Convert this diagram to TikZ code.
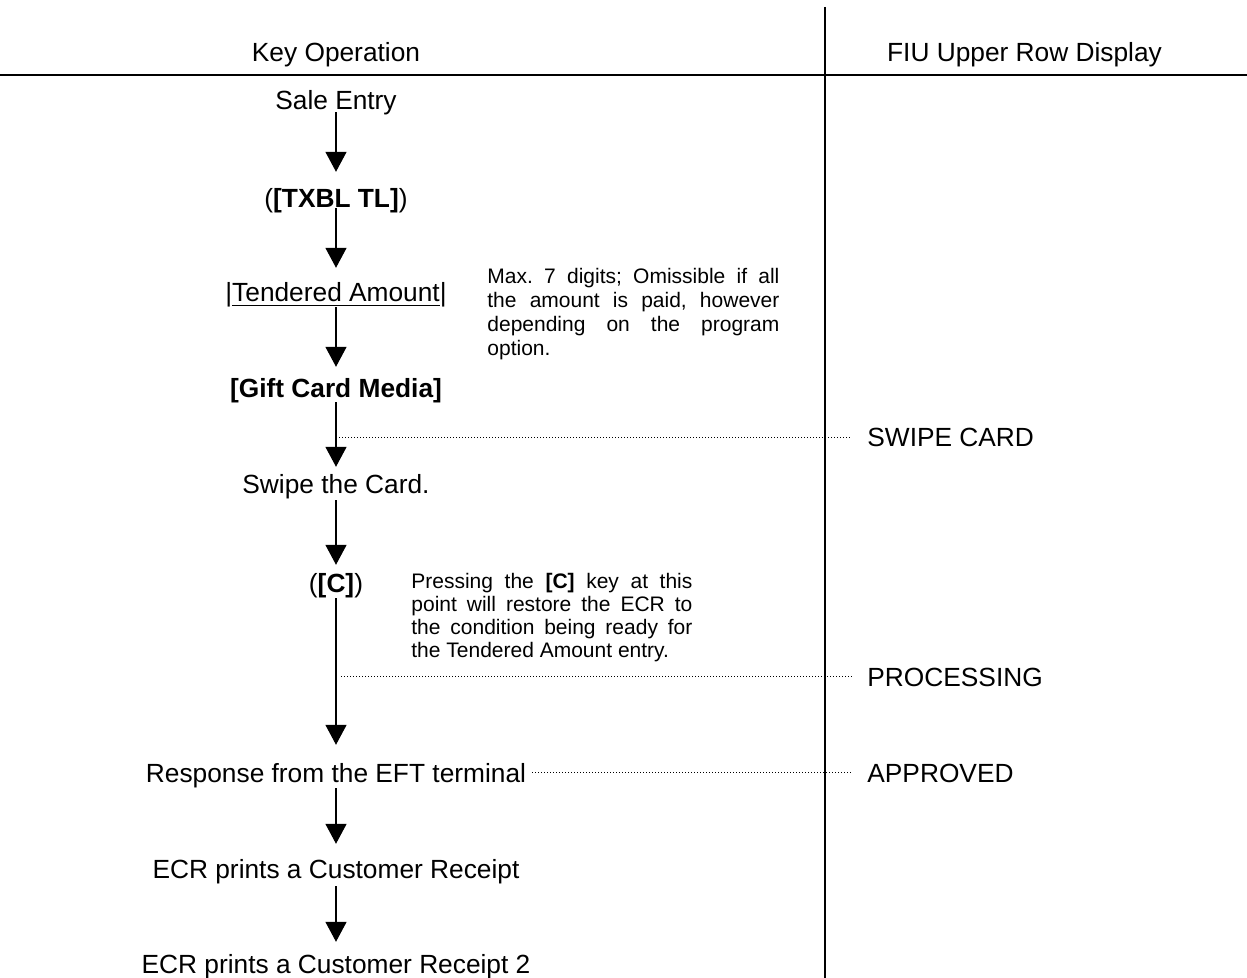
\documentclass[tikz,border=0pt]{standalone}
\usepackage{fontspec}
\setmainfont{Liberation Sans}
\usetikzlibrary{arrows.meta}
\frenchspacing
\begin{document}
\begin{tikzpicture}[x=0.5pt,y=-0.5pt,
  keyop/.style={font=\fontsize{13.15}{15.8}\selectfont, inner sep=0pt, text height=9.4pt, text depth=0pt, anchor=base},
  disp/.style={font=\fontsize{13.15}{15.8}\selectfont, inner xsep=7.5pt, inner ysep=0pt, text height=9.4pt, text depth=0pt, anchor=west},
  flow/.style={line width=0.75pt, -{Triangle[width=10.5pt,length=10pt]}},
  guide/.style={line width=0.5pt, dash pattern=on 0.5pt off 1pt},
  rulel/.style={line width=1pt},
  notetext/.style={font=\fontsize{10.5}{11.8}\selectfont, inner sep=0pt, anchor=base west}
]
\useasboundingbox (0,0) rectangle (1247,978);

% frame lines
\coordinate (vtop) at (825,7);
\coordinate (vbot) at (825,978);
\coordinate (hl) at (0,75);
\coordinate (hr) at (1247,75);
\draw[rulel] (vtop) -- (vbot);
\draw[rulel] (hl) -- (hr);

% headers
\node[keyop] (hdrL) at (336,62) {Key Operation};
\node[keyop] (hdrR) at (1024.5,62) {FIU Upper Row Display};

% flow nodes
\node[keyop] (sale)  at (336,110) {Sale Entry};
\node[keyop] (txbl)  at (336,208) {(\textbf{[TXBL TL]})};
\node[keyop] (tend)  at (336,302) {|\underline{Tendered Amount}|};
\node[keyop] (gift)  at (336,398) {\textbf{[Gift Card Media]}};
\node[keyop] (swipe) at (336,493) {Swipe the Card.};
\node[keyop] (ckey)  at (336,592) {(\textbf{[C]})};
\node[keyop] (resp)  at (336,782) {Response from the EFT terminal};
\node[keyop] (ecra)  at (336,878) {ECR prints a Customer Receipt};
\node[keyop] (ecrb)  at (336,973) {ECR prints a Customer Receipt 2};

% notes
\node[notetext] (note1) at (487,284) {\parbox[t]{146pt}{\fontsize{10.5}{11.9}\selectfont\frenchspacing
\makebox[\linewidth][s]{Max. 7 digits; Omissible if all}\\
\makebox[\linewidth][s]{the amount is paid, however}\\
\makebox[\linewidth][s]{depending on the program}\\
option.}};
\node[notetext] (note2) at (411,588) {\parbox[t]{140.5pt}{\fontsize{10.5}{11.65}\selectfont\frenchspacing
\makebox[\linewidth][s]{Pressing the \textbf{[C]} key at this}\\
\makebox[\linewidth][s]{point will restore the ECR to}\\
\makebox[\linewidth][s]{the condition being ready for}\\
the Tendered Amount entry.}};

% arrows
\draw[flow, shorten <=1pt, shorten >=8.5pt] (sale.south) -- (txbl.north);
\draw[flow, shorten <=0pt, shorten >=7.5pt] (txbl.south) -- (tend.north);
\draw[flow, shorten <=2.5pt, shorten >=6pt] (tend.south) -- (gift.north);
\draw[flow, shorten <=2pt, shorten >=3.5pt] (gift.south) -- (swipe.north);
\draw[flow, shorten <=3.5pt, shorten >=4pt] (swipe.south) -- (ckey.north);
\draw[flow, shorten <=3pt, shorten >=9pt] (ckey.south) -- (resp.north);
\draw[flow, shorten <=3pt, shorten >=7.5pt] (resp.south) -- (ecra.north);
\draw[flow, shorten <=4pt, shorten >=6pt] (ecra.south) -- (ecrb.north);

% display labels
\node[disp] (lswipe) at (852,437) {SWIPE CARD};
\node[disp] (lproc)  at (852,676.6) {PROCESSING};
\node[disp] (lappr)  at (852,772.6) {APPROVED};

% dotted guide lines
\coordinate (g1) at (339,437);
\coordinate (g2) at (341,676.6);
\draw[guide] (g1) -- (lswipe.west);
\draw[guide] (g2) -- (lproc.west);
\draw[guide, shorten <=3pt] (resp.east) -- (lappr.west);
\end{tikzpicture}
\end{document}
